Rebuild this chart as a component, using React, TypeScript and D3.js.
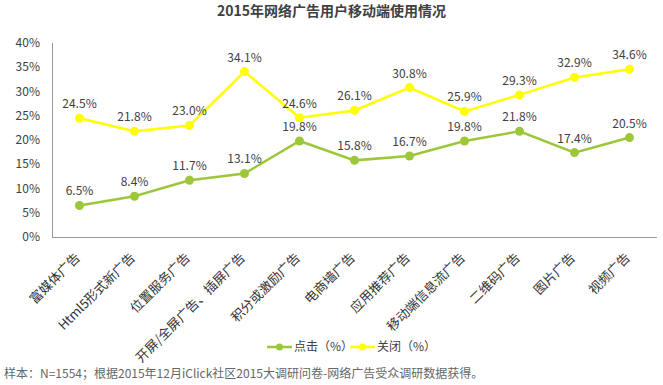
import React from "react";
import * as d3 from "d3";

const categories = [
  "富媒体广告",
  "Html5形式新广告",
  "位置服务广告",
  "开屏/全屏广告、插屏广告",
  "积分或激励广告",
  "电商墙广告",
  "应用推荐广告",
  "移动端信息流广告",
  "二维码广告",
  "图片广告",
  "视频广告",
];
const clickValues = [6.5, 8.4, 11.7, 13.1, 19.8, 15.8, 16.7, 19.8, 21.8, 17.4, 20.5];
const closeValues = [24.5, 21.8, 23.0, 34.1, 24.6, 26.1, 30.8, 25.9, 29.3, 32.9, 34.6];
const yTicks = [0, 5, 10, 15, 20, 25, 30, 35, 40];

const series = [
  { name: "点击（%）", values: clickValues, color: "#9dc73a" },
  { name: "关闭（%）", values: closeValues, color: "#ffff00" },
];

const W = 663;
const H = 385;
const font = "'Noto Sans CJK SC', 'Noto Sans', sans-serif";

const App = () => {
  const x = d3.scaleBand<string>().domain(categories).range([52, 657]);
  const y = d3.scaleLinear().domain([0, 40]).range([237, 43]);
  const cx = (c: string) => (x(c) ?? 0) + x.bandwidth() / 2;

  const line = d3
    .line<number>()
    .x((_, i) => cx(categories[i]))
    .y((d) => y(d));

  return (
    <svg
      width={W}
      height={H}
      style={{ position: "absolute", left: 0, top: 0, background: "#fff" }}
      fontFamily={font}
    >
      <text x={W / 2} y={16} textAnchor="middle" fontSize={14} fontWeight="bold" fill="#404040">
        2015年网络广告用户移动端使用情况
      </text>

      {yTicks.map((t) => (
        <text key={t} x={40} y={y(t) + 4} textAnchor="end" fontSize={12} fill="#404040">
          {t}%
        </text>
      ))}
      <line x1={52.5} x2={52.5} y1={43} y2={237} stroke="#999" />
      <line x1={52} x2={657} y1={237.5} y2={237.5} stroke="#999" />

      {categories.map((c) => (
        <text
          key={c}
          transform={`translate(${cx(c) - 1},${256}) rotate(-45)`}
          textAnchor="end"
          dominantBaseline="middle"
          fontSize={13}
          fill="#333"
        >
          {c}
        </text>
      ))}

      {series.map((s) => (
        <g key={s.name}>
          <path d={line(s.values) ?? ""} fill="none" stroke={s.color} strokeWidth={2.5} />
          {s.values.map((v, i) => (
            <circle key={i} cx={cx(categories[i])} cy={y(v)} r={4.5} fill={s.color} />
          ))}
          {s.values.map((v, i) => (
            <text
              key={"t" + i}
              x={cx(categories[i])}
              y={y(v) - 10}
              textAnchor="middle"
              fontSize={12}
              fill="#404040"
            >
              {v.toFixed(1)}%
            </text>
          ))}
        </g>
      ))}

      {series.map((s, i) => {
        const lx = 267 + i * 83;
        return (
          <g key={"lg" + s.name}>
            <line x1={lx} x2={lx + 25} y1={347} y2={347} stroke={s.color} strokeWidth={2.5} />
            <circle cx={lx + 12.5} cy={347} r={3.5} fill={s.color} />
            <text x={lx + 27} y={351} fontSize={12} fill="#404040">
              {s.name}
            </text>
          </g>
        );
      })}

      <text x={4} y={378} fontSize={12} fill="#666">
        样本：N=1554；根据2015年12月iClick社区2015大调研问卷-网络广告受众调研数据获得。
      </text>
    </svg>
  );
};

export default App;
